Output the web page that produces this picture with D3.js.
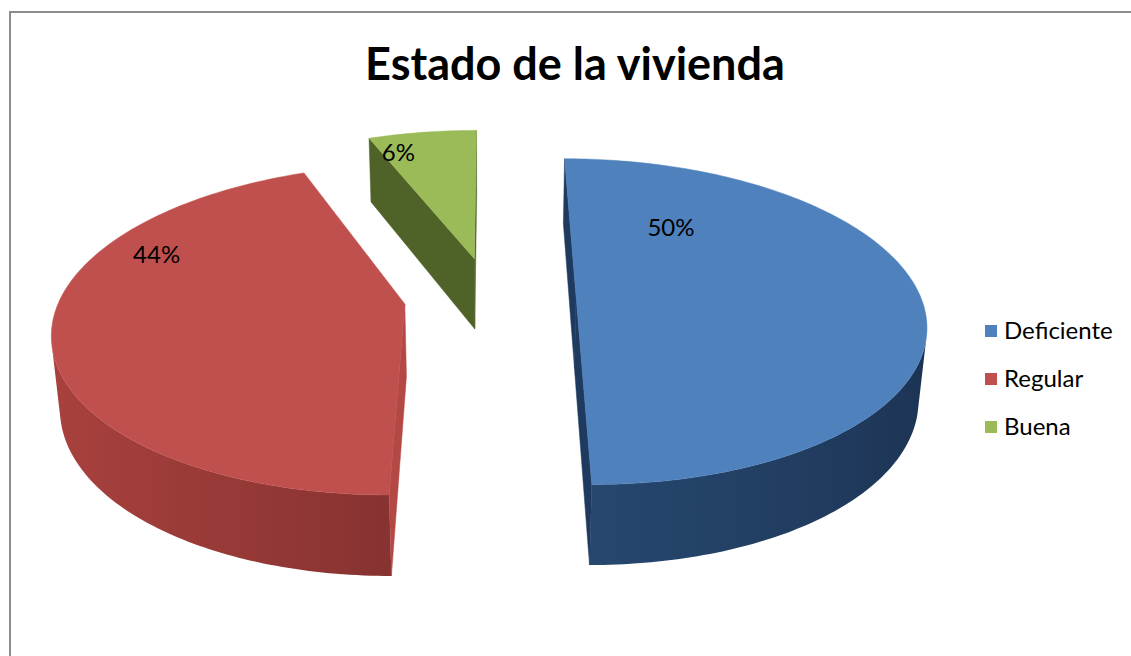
<!DOCTYPE html>
<html>
<head>
<meta charset="utf-8">
<script src="https://cdn.jsdelivr.net/npm/d3@7"></script>
<style>
body { margin: 0; background: #fff; }
text { font-family: Lato, "Open Sans", sans-serif; }
</style>
</head>
<body>
<div id="chart"></div>
<script>
var categories = ["Deficiente", "Regular", "Buena"];
var values = [50, 44, 6];
var labels = ["50%", "44%", "6%"];
var title = "Estado de la vivienda";

var topColors = ["#4F81BD", "#C0504D", "#9BBB59"];
var cutColors = ["#1F3A5F", "#B34845", "#4F6228"];
var wallRanges = [["#1B3150", "#2D5582"], ["#541C1C", "#A8413E"], ["#3E4E20", "#6E8A35"]];
// where the % label sits inside each slice (angle in degrees, radius fraction)
var labelSpots = [[34, 0.56], [293, 0.83], [342, 0.85]];

var width = 1131, height = 656;

var svg = d3.select("#chart").append("svg")
    .attr("width", width).attr("height", height);
var defs = svg.append("defs");

svg.append("rect")
    .attr("x", 10).attr("y", 12)
    .attr("width", width).attr("height", height)
    .attr("fill", "#fff").attr("stroke", "#8c8c8c").attr("stroke-width", 2);

svg.append("text")
    .attr("x", 575).attr("y", 80)
    .attr("text-anchor", "middle")
    .style("font-size", "45px").style("font-weight", "bold")
    .text(title);

// simple perspective camera looking down on the pie
var tilt = 27.5 * Math.PI / 180, camDist = 5.75, focal = 1980,
    cx = 490, cy = 296.5, explode = 0.25, thick = 0.24;
var cam = [0, camDist * Math.cos(tilt), camDist * Math.sin(tilt)];

function project(p) {
    var y = p[1] * Math.sin(tilt) - p[2] * Math.cos(tilt),
        z = camDist - p[1] * Math.cos(tilt) - p[2] * Math.sin(tilt);
    return [cx + focal * p[0] / z, cy + focal * y / z];
}

var arcs = d3.pie().sort(null)(values);
arcs.forEach(function(a, i) {
    var mid = (a.startAngle + a.endAngle) / 2;
    a.ou = explode * Math.sin(mid);
    a.ov = -explode * Math.cos(mid);
    a.index = i;
});

function pt(a, ang, r, h) {
    return [a.ou + r * Math.sin(ang), a.ov - r * Math.cos(ang), h];
}
function facing(n, p) {
    return n[0] * (cam[0] - p[0]) + n[1] * (cam[1] - p[1]) + n[2] * (cam[2] - p[2]) > 0;
}
var line = d3.line();
var light = [-0.976, 0.217];

var pieG = svg.append("g");

// back slices first
arcs.slice().sort(function(a, b) { return a.ov - b.ov; }).forEach(function(a) {
    var i = a.index, g = pieG.append("g");
    var shade = d3.scaleLinear().domain([-1, 1]).range(wallRanges[i]).clamp(true);
    var span = a.endAngle - a.startAngle;
    var steps = Math.max(4, Math.ceil(span / (Math.PI / 180)));

    // outer wall: find the part that faces the camera, fill with a gradient
    var vis = [];
    for (var s = 0; s <= steps; s++) {
        var ang = a.startAngle + span * s / steps,
            n = [Math.sin(ang), -Math.cos(ang), 0];
        if (facing(n, pt(a, ang, 1, -thick / 2))) vis.push(ang);
    }
    if (vis.length > 1) {
        var topEdge = vis.map(v => project(pt(a, v, 1, 0))),
            botEdge = vis.map(v => project(pt(a, v, 1, -thick))).reverse();
        var xs = topEdge.map(p => p[0]),
            x0 = d3.min(xs), x1 = d3.max(xs);
        var stops = vis.map(function(v, k) {
            return {
                offset: (xs[k] - x0) / (x1 - x0 || 1),
                color: shade(Math.sin(v) * light[0] - Math.cos(v) * light[1])
            };
        }).sort((p, q) => p.offset - q.offset);
        defs.append("linearGradient")
            .attr("id", "wall" + i)
            .attr("gradientUnits", "userSpaceOnUse")
            .attr("x1", x0).attr("x2", x1).attr("y1", 0).attr("y2", 0)
            .selectAll("stop")
            .data(stops)
            .enter()
            .append("stop")
            .attr("offset", d => d.offset)
            .attr("stop-color", d => d.color);
        g.append("path")
            .attr("d", line(topEdge.concat(botEdge)) + "Z")
            .attr("fill", "url(#wall" + i + ")");
    }

    // cut faces
    [[a.startAngle, a.startAngle - Math.PI / 2], [a.endAngle, a.endAngle + Math.PI / 2]].forEach(function(f) {
        var n = [Math.sin(f[1]), -Math.cos(f[1]), 0];
        if (!facing(n, pt(a, f[0], 0.5, -thick / 2))) return;
        g.append("path")
            .attr("d", line([pt(a, 0, 0, 0), pt(a, f[0], 1, 0), pt(a, f[0], 1, -thick), pt(a, 0, 0, -thick)].map(project)) + "Z")
            .attr("fill", cutColors[i]).attr("stroke", cutColors[i]).attr("stroke-width", 0.5);
    });

    // top face
    var top = [pt(a, 0, 0, 0)];
    for (var s2 = 0; s2 <= steps; s2++) {
        top.push(pt(a, a.startAngle + span * s2 / steps, 1, 0));
    }
    g.append("path")
        .attr("d", line(top.map(project)) + "Z")
        .attr("fill", topColors[i]).attr("stroke", topColors[i]).attr("stroke-width", 0.5);
});

// data labels
pieG.selectAll("text.lbl")
    .data(arcs)
    .enter()
    .append("text")
    .attr("class", "lbl")
    .attr("text-anchor", "middle")
    .attr("dy", "0.35em")
    .style("font-size", "24px")
    .attr("x", d => project(pt(d, labelSpots[d.index][0] * Math.PI / 180, labelSpots[d.index][1], 0))[0])
    .attr("y", d => project(pt(d, labelSpots[d.index][0] * Math.PI / 180, labelSpots[d.index][1], 0))[1])
    .text(d => labels[d.index]);

// legend
var legend = svg.append("g").attr("class", "legend");
legend.selectAll("rect")
    .data(categories)
    .enter()
    .append("rect")
    .attr("x", 985).attr("y", (d, i) => 325 + i * 48)
    .attr("width", 12).attr("height", 12)
    .style("fill", (d, i) => topColors[i]);
legend.selectAll("text")
    .data(categories)
    .enter()
    .append("text")
    .attr("x", 1004).attr("y", (d, i) => 331 + i * 48)
    .attr("dy", "0.35em")
    .style("font-size", "24px")
    .text(d => d);
</script>
</body>
</html>
